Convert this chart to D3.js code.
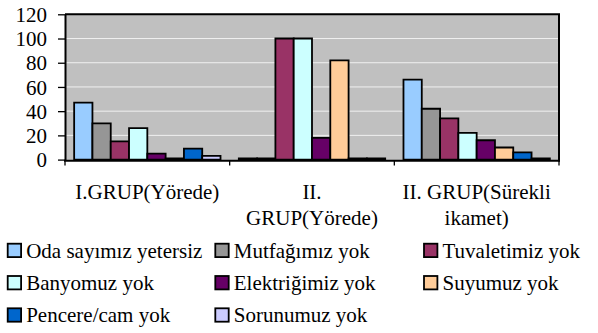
<!DOCTYPE html>
<html>
<head>
<meta charset="utf-8">
<script src="https://cdn.jsdelivr.net/npm/d3@7"></script>
<style>
  html, body { margin: 0; padding: 0; background: #ffffff; }
  svg { display: block; }
</style>
</head>
<body>
<svg id="chart" width="598" height="333" font-family="Liberation Serif, Times New Roman, serif"></svg>
<script>
// Categories (groups along the x axis)
const categories = ["I.GRUP(Yörede)", "II. GRUP(Yörede)", "II. GRUP(Sürekli ikamet)"];

// Series names, in legend order
const seriesNames = [
  "Oda sayımız yetersiz", "Mutfağımız yok", "Tuvaletimiz yok",
  "Banyomuz yok", "Elektriğimiz yok", "Suyumuz yok",
  "Pencere/cam yok", "Sorunumuz yok"
];

// Values per series, one per category
const odaSayimiz   = [47, 0, 66];
const mutfagimiz   = [30, 0, 42];
const tuvaletimiz  = [15, 100, 34];
const banyomuz     = [26, 100, 22];
const elektrigimiz = [5, 18, 16];
const suyumuz      = [0, 82, 10];
const pencereCam   = [9, 0, 6];
const sorunumuz    = [3, 0, 0];

const seriesValues = [odaSayimiz, mutfagimiz, tuvaletimiz, banyomuz,
                      elektrigimiz, suyumuz, pencereCam, sorunumuz];

const seriesColors = ["#99CCFF", "#969696", "#993366", "#CCFFFF",
                      "#660066", "#FFCC99", "#0066CC", "#CCCCFF"];

// Y axis ticks
const yTicks = [0, 20, 40, 60, 80, 100, 120];

const FONT = "Liberation Serif, Times New Roman, serif";
const fontSize = 21;

const svg = d3.select("#chart");

const plot = { left: 65, right: 559, top: 14.3, bottom: 159.6 };

const x0 = d3.scaleBand()
  .domain(categories)
  .range([plot.left, plot.right])
  .paddingInner(0).paddingOuter(0);

const x1 = d3.scaleBand()
  .domain(seriesNames)
  .range([0, x0.bandwidth()])
  .paddingInner(0).paddingOuter(0.5);

const y = d3.scaleLinear()
  .domain([0, 120])
  .range([plot.bottom, plot.top]);

function styledText(sel) {
  return sel.attr("font-family", FONT)
    .attr("font-size", fontSize)
    .style("font-family", FONT)
    .style("font-size", fontSize + "px")
    .attr("fill", "#000");
}

// Plot area background
svg.append("rect")
  .attr("x", plot.left).attr("y", plot.top)
  .attr("width", plot.right - plot.left)
  .attr("height", plot.bottom - plot.top + 1)
  .attr("fill", "#C0C0C0");

// Horizontal gridlines
svg.append("g")
  .selectAll("line")
  .data(yTicks.filter(t => t > 0 && t < 120))
  .join("line")
  .attr("x1", plot.left).attr("x2", plot.right)
  .attr("y1", d => y(d)).attr("y2", d => y(d))
  .attr("stroke", "#F0F0F0")
  .attr("stroke-width", 1);

// X axis line (bars are drawn over it)
svg.append("line")
  .attr("x1", plot.left - 1).attr("x2", plot.right + 1)
  .attr("y1", plot.bottom + 1.2).attr("y2", plot.bottom + 1.2)
  .attr("stroke", "#000").attr("stroke-width", 2);

// Bars (closed paths so that zero values still show their outline)
const rows = [];
seriesNames.forEach((s, si) => {
  categories.forEach((c, ci) => {
    rows.push({ series: s, cat: c, value: seriesValues[si][ci], color: seriesColors[si] });
  });
});

svg.append("g")
  .selectAll("path")
  .data(rows)
  .join("path")
  .attr("d", d => {
    const bx = x0(d.cat) + x1(d.series);
    const bw = x1.bandwidth();
    const top = Math.min(y(d.value), y(0) - 1.2);
    return `M${bx},${y(0)}V${top}H${bx + bw}V${y(0)}Z`;
  })
  .attr("fill", d => d.color)
  .attr("stroke", "#000")
  .attr("stroke-width", 1.8)
  .attr("stroke-linejoin", "miter");

// Plot area border (top and right)
svg.append("path")
  .attr("d", `M${plot.left},${plot.top}H${plot.right}V${plot.bottom + 2}`)
  .attr("fill", "none")
  .attr("stroke", "#000")
  .attr("stroke-width", 2);

// Y axis
const yAxis = svg.append("g")
  .attr("transform", `translate(${plot.left},0)`)
  .call(d3.axisLeft(y).tickValues(yTicks).tickSize(7).tickPadding(11).tickSizeOuter(0));
yAxis.attr("font-family", FONT).attr("font-size", fontSize);
yAxis.select(".domain").attr("stroke", "#000").attr("stroke-width", 2);
yAxis.selectAll(".tick line").attr("stroke", "#000").attr("stroke-width", 1.3);
yAxis.selectAll(".tick text").each(function () {
  const t = d3.select(this);
  const label = t.text();
  t.text(null);
  styledText(t).attr("dy", "0.34em");
  t.append("tspan").attr("font-family", FONT).text(label);
});

// Category boundary ticks on the x axis
const boundaries = categories.map(c => x0(c)).concat([x0.range()[1]]);
svg.append("g")
  .selectAll("line")
  .data(boundaries)
  .join("line")
  .attr("x1", d => d).attr("x2", d => d)
  .attr("y1", plot.bottom + 1).attr("y2", plot.bottom + 6)
  .attr("stroke", "#000").attr("stroke-width", 1.3);

// Category labels, wrapped to a fixed width
const wrapWidth = 156;
const catG = svg.append("g").attr("text-anchor", "middle");

categories.forEach(c => {
  const cx = x0(c) + x0.bandwidth() / 2;
  const t = styledText(catG.append("text")).attr("x", cx).attr("y", 199.3);
  const words = c.split(" ");
  const lines = [];
  let line = [];
  const probe = styledText(catG.append("text")).attr("visibility", "hidden");
  words.forEach(w => {
    line.push(w);
    probe.text(line.join(" "));
    if (probe.node().getComputedTextLength() > wrapWidth && line.length > 1) {
      line.pop();
      lines.push(line.join(" "));
      line = [w];
    }
  });
  lines.push(line.join(" "));
  probe.remove();
  lines.forEach((l, i) => {
    t.append("tspan").attr("font-family", FONT).attr("x", cx).attr("y", 199.3 + i * 26).text(l);
  });
});

// Legend: three columns, three rows
const legendCols = [6.7, 214.3, 423];
const legendRows = [257.7, 290, 322.3];
const legend = svg.append("g");

seriesNames.forEach((s, i) => {
  const col = i % 3, row = Math.floor(i / 3);
  const lx = legendCols[col], ly = legendRows[row];
  const g = legend.append("g");
  g.append("rect")
    .attr("x", lx + 1).attr("y", ly - 14)
    .attr("width", 13.4).attr("height", 13.4)
    .attr("fill", seriesColors[i])
    .attr("stroke", "#000").attr("stroke-width", 1.8);
  styledText(g.append("text"))
    .attr("x", lx + 19.5).attr("y", ly)
    .append("tspan").attr("font-family", FONT)
    .text(s);
});
</script>
</body>
</html>
